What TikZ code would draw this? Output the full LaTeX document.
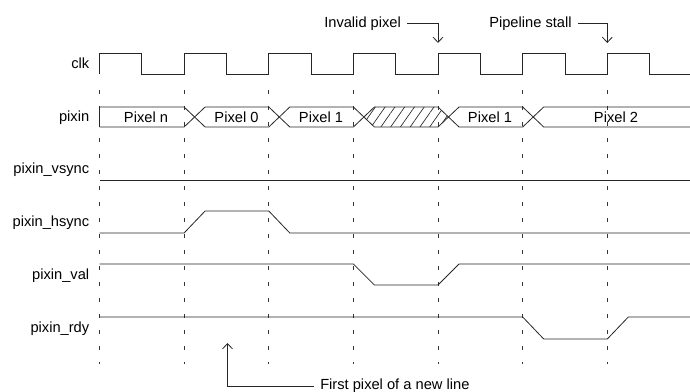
\documentclass[tikz,border=0pt]{standalone}
\usepackage{fontspec}
\setmainfont{Liberation Sans}
\usetikzlibrary{arrows.meta,patterns.meta}

\begin{document}
\begin{tikzpicture}[x=0.75pt,y=-0.75pt,
        font=\fontsize{11}{13}\selectfont,
        sig/.style={line width=0.6pt,black!85},
        edgeline/.style={line width=0.6pt,black!80,dash pattern=on 3pt off 9pt},
        signame/.style={anchor=base east,inner sep=0pt},
        busname/.style={inner sep=0pt},
        note/.style={anchor=base west,inner xsep=4.5pt,inner ysep=0pt},
        notearrow/.style={line width=0.6pt,black!85,-{Straight Barb[length=4pt,width=7.5pt]}}]
                \useasboundingbox (0,0) rectangle (690,392);
                \def\per{84.63}
                \def\hp{42.31}

                % guides at the rising edges
                \foreach \k in {0,...,6}
                    \draw [edgeline] (99.5+\per*\k,90) -- (99.5+\per*\k,364);

                % signal names
                \node [signame] (nclk) at (89.5,68.5) {clk};
                \node [signame] (npixin) at (89.5,122) {pixin};
                \node [signame] (nvsync) at (89.5,174) {pixin\_vsync};
                \node [signame] (nhsync) at (89.5,227) {pixin\_hsync};
                \node [signame] (nval) at (89.5,279.5) {pixin\_val};
                \node [signame] (nrdy) at (89.5,333) {pixin\_rdy};

                % clk
                \draw [sig] (99.5,74) \foreach \k in {0,...,6} { -- ++(0,-21) -- ++(\hp,0) -- ++(0,21) -- ++(\hp,0) };

                % pixin bus
                \fill [pattern={Lines[angle=55,distance=6pt,line width=0.5pt]}, pattern color=black!85]
                    (363.9,117) -- (374.4,107) -- (438,107) -- (448.5,117) -- (438,127) -- (374.4,127) -- cycle;
                \draw [sig] (99.5,127) -- (99.5,107) -- (184.1,107) -- (205.1,127) -- (268.8,127) -- (289.8,107) -- (353.4,107)
                    -- (374.4,127) -- (438,127) -- (459,107) -- (522.7,107) -- (543.7,127) -- (690,127);
                \draw [sig] (99.5,127) -- (184.1,127) -- (205.1,107) -- (268.8,107) -- (289.8,127) -- (353.4,127)
                    -- (374.4,107) -- (438,107) -- (459,127) -- (522.7,127) -- (543.7,107) -- (690,107);
                \node [busname] (pxn) at (146,117) {Pixel n};
                \node [busname] (px0) at (236.5,117) {Pixel 0};
                \node [busname] (px1) at (321,117) {Pixel 1};
                \node [busname] (px1b) at (490,117) {Pixel 1};
                \node [busname] (px2) at (616,117) {Pixel 2};

                % control lines
                \draw [sig] (99.5,180) -- (690,180);
                \draw [sig] (99.5,233) -- (184.1,233) -- (205.1,211) -- (268.8,211) -- (289.8,233) -- (690,233);
                \draw [sig] (99.5,264) -- (353.4,264) -- (374.4,285) -- (438,285) -- (459,264) -- (690,264);
                \draw [sig] (99.5,317) -- (522.7,317) -- (543.7,339) -- (607.3,339) -- (628.3,317) -- (690,317);

                % notes
                \node [note] (invalid) at (318,27.5) {Invalid pixel};
                \coordinate (tipinv) at (438,43);
                \draw [notearrow] (invalid.east) -| (tipinv);
                \node [note] (stall) at (483,27.5) {Pipeline stall};
                \coordinate (tipstall) at (607.3,43);
                \draw [notearrow] (stall.east) -| (tipstall);
                \node [note] (firstpx) at (314,389.8) {First pixel of a new line};
                \coordinate (tipfirst) at (227.5,343);
                \draw [notearrow] (firstpx.west) -| (tipfirst);
            \end{tikzpicture}
\end{document}
